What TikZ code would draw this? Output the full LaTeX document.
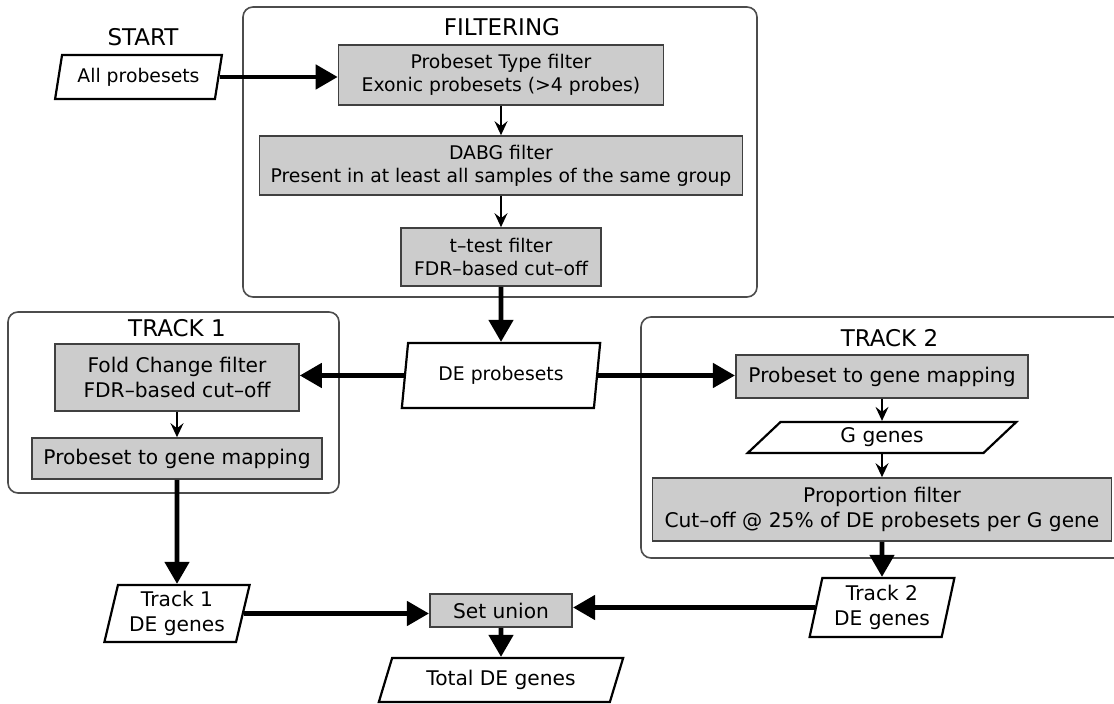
\documentclass[tikz,border=0pt]{standalone}
\usepackage{fontspec}
\setmainfont{DejaVu Sans}
\usetikzlibrary{shapes.geometric,arrows.meta}

\tikzset{
  procbox/.style={draw=black!75, fill=black!20, line width=0.8pt, align=center, inner sep=0pt, font=\fontsize{10.1}{12.3}\selectfont},
  databox/.style={trapezium, trapezium stretches=true, draw, line width=1.1pt, align=center, inner sep=0pt, font=\fontsize{10.1}{12.3}\selectfont},
  smalltext/.style={font=\fontsize{9.4}{11.5}\selectfont},
  frame/.style={draw=black!70, rounded corners=5pt, line width=0.8pt},
  title/.style={font=\fontsize{11.5}{13}\selectfont},
  thickarrow/.style={-{Triangle[length=11pt,width=12pt]}, line width=2.3pt},
  thinarrow/.style={-{Stealth[length=7pt,width=6.5pt,inset=2.5pt]}, line width=0.8pt}
}

\begin{document}
\begin{tikzpicture}[x=0.5pt,y=-0.5pt]
\useasboundingbox (0,0) rectangle (1114,704);

% start
\node[title] (StartLabel) at (143,37) {START};
\node[databox, smalltext, trapezium left angle=73, trapezium right angle=107, minimum width=83.5pt, minimum height=22pt] (AllSets) at (138.5,77) {All probesets};

% filtering block
\draw[frame] (243,7) rectangle (757,297);
\node[title] (FiltLabel) at (502,27) {FILTERING};
\node[procbox, smalltext, minimum width=162.5pt, minimum height=30pt] (TypeFilt) at (501,75) {Probeset Type filter\\Exonic probesets (>4 probes)};
\node[procbox, smalltext, minimum width=241.5pt, minimum height=29.5pt] (DabgFilt) at (501,165.5) {DABG filter\\Present in at least all samples of the same group};
\node[procbox, smalltext, minimum width=100pt, minimum height=29pt] (TtestFilt) at (501,257) {t--test filter\\FDR--based cut--off};
\node[databox, smalltext, trapezium left angle=77, trapezium right angle=103, minimum width=99.75pt, minimum height=32.5pt] (DeSets) at (501,375.5) {DE probesets};

% track 1
\draw[frame] (8,312) rectangle (339,493);
\node[title] (TrackOneLabel) at (177,328) {TRACK 1};
\node[procbox, minimum width=122pt, minimum height=33.5pt] (FoldFilt) at (177,377.5) {Fold Change filter\\FDR--based cut--off};
\node[procbox, minimum width=145.25pt, minimum height=20.5pt] (MapOne) at (177,458.5) {Probeset to gene mapping};
\node[databox, trapezium left angle=76, trapezium right angle=104, minimum width=73pt, minimum height=28.5pt] (TrackOneGenes) at (177,613.5) {Track 1\\DE genes};

% track 2
\draw[frame] (641,317) rectangle (1140,558);
\node[title] (TrackTwoLabel) at (889.5,338) {TRACK 2};
\node[procbox, minimum width=146.25pt, minimum height=21.5pt] (MapTwo) at (882,376.5) {Probeset to gene mapping};
\node[databox, trapezium left angle=55, trapezium right angle=125, minimum width=135pt, minimum height=15.5pt] (GGenes) at (882,437.5) {G genes};
\node[procbox, minimum width=229.5pt, minimum height=31.5pt] (PropFilt) at (882,509.5) {Proportion filter\\Cut--off @ 25\% of DE probesets per G gene};
\node[databox, trapezium left angle=77, trapezium right angle=103, minimum width=72.5pt, minimum height=29.5pt] (TrackTwoGenes) at (882,607.5) {Track 2\\DE genes};

% union
\node[procbox, minimum width=71.25pt, minimum height=16.5pt] (Union) at (501,610.5) {Set union};
\node[databox, trapezium left angle=65, trapezium right angle=115, minimum width=122.5pt, minimum height=22pt] (TotalGenes) at (501,680) {Total DE genes};

\draw[thickarrow] (AllSets.east) -- (AllSets.east -| TypeFilt.west);
\draw[thinarrow] (TypeFilt.south) -- (DabgFilt.north);
\draw[thinarrow] (DabgFilt.south) -- (TtestFilt.north);
\draw[thickarrow] (TtestFilt.south) -- (DeSets.north);
\draw[thickarrow] (DeSets.west) -- (DeSets.west -| FoldFilt.east);
\draw[thickarrow] (DeSets.east) -- (DeSets.east -| MapTwo.west);
\draw[thinarrow] (FoldFilt.south) -- (MapOne.north);
\draw[thickarrow] (MapOne.south) -- (TrackOneGenes.north);
\draw[thinarrow] (MapTwo.south) -- (GGenes.north);
\draw[thinarrow] (GGenes.south) -- (PropFilt.north);
\draw[thickarrow] (PropFilt.south) -- (TrackTwoGenes.north);
\draw[thickarrow] (TrackOneGenes.east) -- (TrackOneGenes.east -| Union.west);
\draw[thickarrow] (TrackTwoGenes.west) -- (TrackTwoGenes.west -| Union.east);
\draw[thickarrow] (Union.south) -- (TotalGenes.north);
\end{tikzpicture}
\end{document}
